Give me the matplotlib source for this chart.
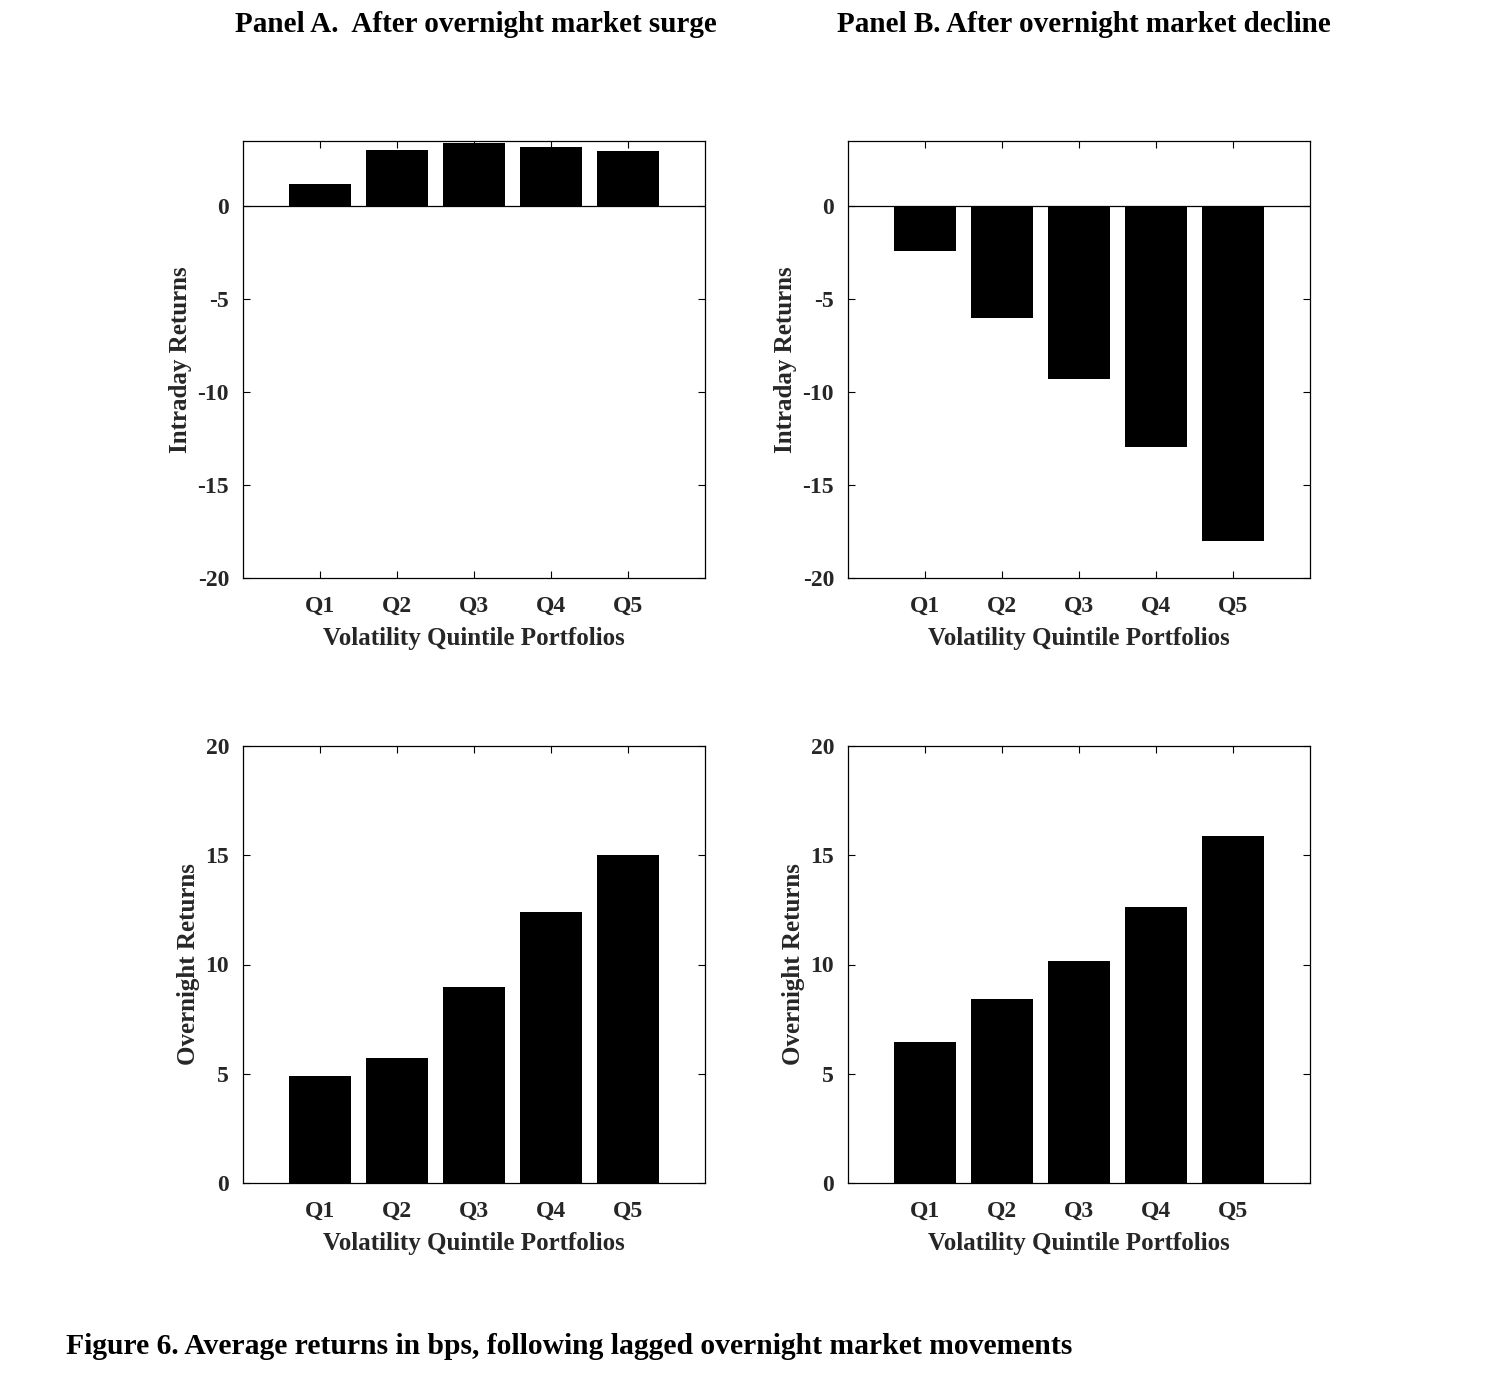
import matplotlib
matplotlib.use("Agg")
import matplotlib.pyplot as plt

plt.rcParams['font.family'] = ['Liberation Serif', 'DejaVu Serif']
plt.rcParams['font.weight'] = 'bold'
plt.rcParams['axes.unicode_minus'] = False

quintiles = ['Q1', 'Q2', 'Q3', 'Q4', 'Q5']
positions = [1, 2, 3, 4, 5]

# average returns in bps
intraday_surge = [1.18, 3.01, 3.38, 3.17, 2.96]
intraday_decline = [-2.42, -6.02, -9.30, -12.96, -18.01]
overnight_surge = [4.90, 5.72, 8.97, 12.40, 15.01]
overnight_decline = [6.45, 8.42, 10.16, 12.63, 15.88]

fig = plt.figure(figsize=(15.07, 13.91), dpi=100)
W, H = 1507, 1391

def make_axes(x0, x1, y0, y1):
    return fig.add_axes([x0 / W, 1 - y1 / H, (x1 - x0) / W, (y1 - y0) / H])

def style(ax, ylabel, ylim, yticks, ylabel_x):
    ax.set_xlim(0, 6)
    ax.set_ylim(*ylim)
    ax.set_xticks(positions)
    ax.set_xticklabels(quintiles)
    ax.set_yticks(yticks)
    ax.tick_params(direction='in', top=True, right=True, labelsize=17,
                   length=5, width=0.8, pad=10)
    ax.tick_params(axis='x', pad=13)
    for lab in ax.get_xticklabels() + ax.get_yticklabels():
        lab.set_fontweight('bold')
        lab.set_color('#262626')
    ax.set_xlabel('Volatility Quintile Portfolios', fontsize=18,
                  fontweight='bold', color='#262626', labelpad=7)
    ax.set_ylabel(ylabel, fontsize=18, fontweight='bold', color='#262626')
    ax.yaxis.set_label_coords(ylabel_x, 0.5)
    for s in ax.spines.values():
        s.set_linewidth(0.9)

ax1 = make_axes(243, 705, 141, 578)
ax1.bar(positions, intraday_surge, width=0.8, color='black')
ax1.axhline(0, color='black', linewidth=0.9)
style(ax1, 'Intraday Returns', (-20, 3.5), [-20, -15, -10, -5, 0], -0.11)

ax2 = make_axes(848, 1310, 141, 578)
ax2.bar(positions, intraday_decline, width=0.8, color='black')
ax2.axhline(0, color='black', linewidth=0.9)
style(ax2, 'Intraday Returns', (-20, 3.5), [-20, -15, -10, -5, 0], -0.11)

ax3 = make_axes(243, 705, 746, 1183)
ax3.bar(positions, overnight_surge, width=0.8, color='black')
style(ax3, 'Overnight Returns', (0, 20), [0, 5, 10, 15, 20], -0.092)

ax4 = make_axes(848, 1310, 746, 1183)
ax4.bar(positions, overnight_decline, width=0.8, color='black')
style(ax4, 'Overnight Returns', (0, 20), [0, 5, 10, 15, 20], -0.092)

fig.text(476 / W, 1 - 25 / H, 'Panel A.  After overnight market surge',
         ha='center', va='center', fontsize=21, fontweight='bold')
fig.text(1084 / W, 1 - 25 / H, 'Panel B. After overnight market decline',
         ha='center', va='center', fontsize=21, fontweight='bold')
fig.text(66 / W, 1 - 1347 / H,
         'Figure 6. Average returns in bps, following lagged overnight market movements',
         ha='left', va='center', fontsize=21.3, fontweight='bold')

fig.savefig('out.png', dpi=100, facecolor='white')
